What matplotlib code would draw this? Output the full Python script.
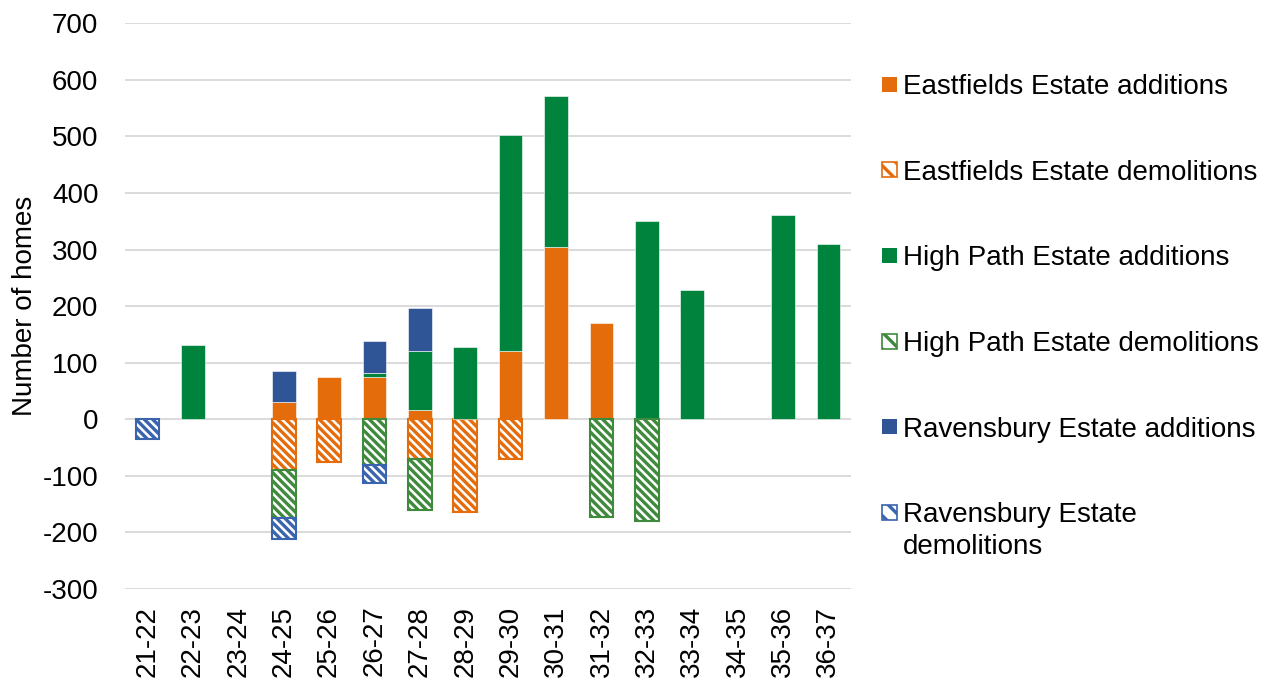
import numpy as np
import matplotlib.pyplot as plt
from matplotlib.patches import Rectangle

plt.rcParams["font.family"] = ["Liberation Sans", "DejaVu Sans"]
plt.rcParams["hatch.linewidth"] = 2.4
plt.rcParams["axes.unicode_minus"] = False

# financial years
years = ["21-22", "22-23", "23-24", "24-25", "25-26", "26-27", "27-28", "28-29",
         "29-30", "30-31", "31-32", "32-33", "33-34", "34-35", "35-36", "36-37"]

# homes added per estate (stacked upwards)
eastfields_add = [0, 0, 0, 31, 75, 74, 17, 0, 121, 305, 170, 0, 0, 0, 0, 0]
highpath_add = [0, 132, 0, 0, 0, 7, 104, 128, 381, 267, 0, 350, 228, 0, 361, 309]
ravensbury_add = [0, 0, 0, 54, 0, 58, 75, 0, 0, 0, 0, 0, 0, 0, 0, 0]

# homes demolished per estate (stacked downwards)
eastfields_dem = [0, 0, 0, -90, -76, 0, -70, -163, -70, 0, 0, 0, 0, 0, 0, 0]
highpath_dem = [0, 0, 0, -84, 0, -80, -90, 0, 0, 0, -172, -180, 0, 0, 0, 0]
ravensbury_dem = [-35, 0, 0, -37, 0, -32, 0, 0, 0, 0, 0, 0, 0, 0, 0, 0]

ORANGE = "#e46c0a"
GREEN = "#00843d"
BLUE = "#2f5597"
HATCH = "\\" * 4

series = [
    ("Eastfields Estate additions", eastfields_add, ORANGE, False),
    ("Eastfields Estate demolitions", eastfields_dem, ORANGE, True),
    ("High Path Estate additions", highpath_add, GREEN, False),
    ("High Path Estate demolitions", highpath_dem, "#3f8a3c", True),
    ("Ravensbury Estate additions", ravensbury_add, BLUE, False),
    ("Ravensbury Estate\ndemolitions", ravensbury_dem, "#3a64ad", True),
]

FS = 20

fig = plt.figure(figsize=(12.74, 6.81), dpi=100)
ax = fig.add_axes([0.098, 0.135, 0.570, 0.831])

x = np.arange(len(years))
pos_base = np.zeros(len(years))
neg_base = np.zeros(len(years))
width = 0.52

for label, vals, color, hatched in series:
    vals = np.array(vals, dtype=float)
    nz = vals != 0  # skip empty segments so no stray outlines appear at zero
    if hatched:
        ax.bar(x[nz], vals[nz], width, bottom=neg_base[nz], facecolor="white",
               edgecolor=color, hatch=HATCH, linewidth=1.5, zorder=3)
        neg_base += vals
    else:
        ax.bar(x[nz], vals[nz], width, bottom=pos_base[nz], color=color,
               edgecolor="white", linewidth=0.4, zorder=3)
        pos_base += vals

ax.set_xlim(-0.5, len(years) - 0.5)
ax.set_ylim(-300, 700)
ax.set_yticks(np.arange(-300, 701, 100))
ax.set_xticks(x)
ax.set_xticklabels(years, rotation=90)
ax.tick_params(axis="both", length=0, labelsize=FS)
ax.tick_params(axis="y", pad=19)
ax.tick_params(axis="x", pad=12)
ax.grid(axis="y", color="#d4d4d4", linewidth=1.2, zorder=0)
ax.set_axisbelow(True)
for s in ax.spines.values():
    s.set_visible(False)

ax.set_ylabel("Number of homes", fontsize=FS)
ax.yaxis.set_label_coords(-0.12, 0.5)

# legend drawn by hand so the wrapped label keeps its key on the first line
W, H = fig.get_size_inches() * fig.dpi
key = 15
y0, step, pitch = 84, 85.7, 31
for i, (label, vals, color, hatched) in enumerate(series):
    yc = y0 + i * step
    if hatched:
        patch = Rectangle((882 / W, 1 - (yc + key / 2) / H), key / W, key / H,
                          transform=fig.transFigure, facecolor="white",
                          edgecolor=color, hatch="\\\\", linewidth=1.2)
    else:
        patch = Rectangle((882 / W, 1 - (yc + key / 2) / H), key / W, key / H,
                          transform=fig.transFigure, facecolor=color,
                          edgecolor="none")
    fig.add_artist(patch)
    extra = label.count("\n") * pitch
    fig.text(903 / W, 1 - (yc + 10 + extra) / H, label, fontsize=FS,
             va="baseline", ha="left", linespacing=1.3)

fig.savefig("out.png", dpi=100)
